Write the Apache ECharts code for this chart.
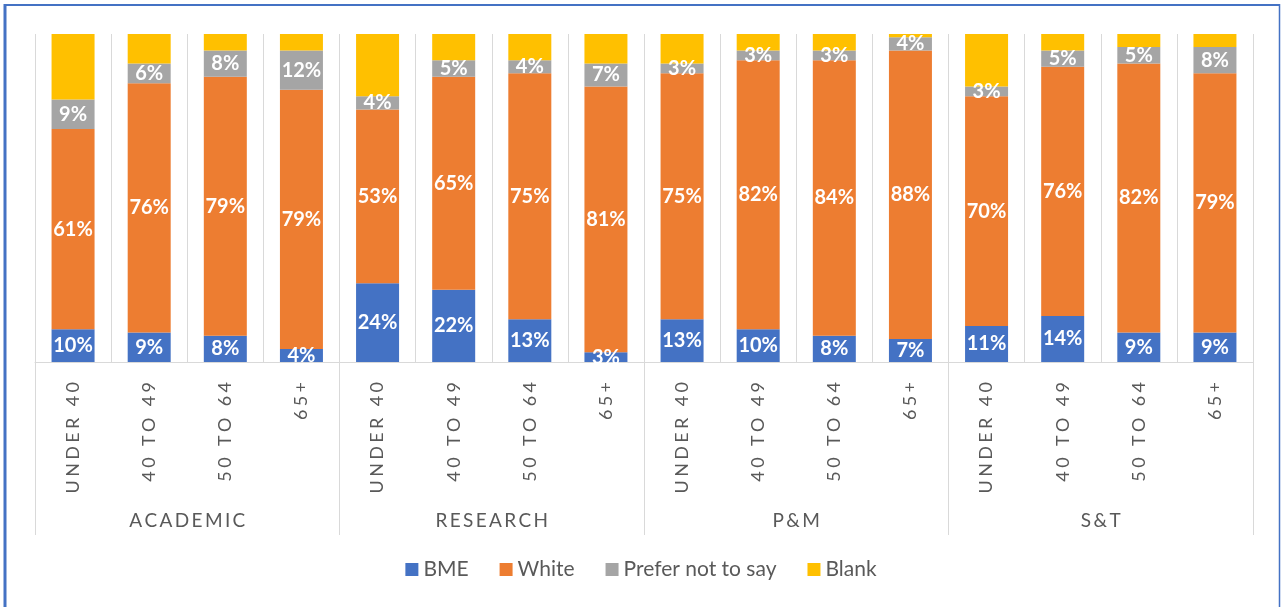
<!DOCTYPE html>
<html>
<head>
<meta charset="utf-8">
<script src="https://cdn.jsdelivr.net/npm/echarts@6/dist/echarts.min.js"></script>
<style>
html,body{margin:0;padding:0;background:#fff;}
#chart{width:1282px;height:607px;}
</style>
</head>
<body>
<div id="chart"></div>
<script>
var groups = ['ACADEMIC', 'RESEARCH', 'P&M', 'S&T'];
var ageBands = ['UNDER 40', '40 TO 49', '50 TO 64', '65+'];
var categories = [];
groups.forEach(function (g) { ageBands.forEach(function (a) { categories.push(a); }); });

var bme    = [10, 9, 8, 4,   24, 22, 13, 3,   13, 10, 8, 7,   11, 14, 9, 9];
var white  = [61, 76, 79, 79, 53, 65, 75, 81, 75, 82, 84, 88, 70, 76, 82, 79];
var prefer = [9, 6, 8, 12,   4, 5, 4, 7,      3, 3, 3, 4,     3, 5, 5, 8];
var blank  = [20, 9, 5, 5,   19, 8, 8, 9,     9, 5, 5, 1,     16, 5, 4, 4];

var seriesNames = ['BME', 'White', 'Prefer not to say', 'Blank'];
var seriesColors = ['#4472c4', '#ed7d31', '#a5a5a5', '#ffc000'];
var seriesData = [bme, white, prefer, blank];

function spaced(s, sep) { return s.split('').join(sep); }

var chart = echarts.init(document.getElementById('chart'));
var labelStyle = {
  show: true, position: 'inside', formatter: '{c}%',
  color: '#ffffff', fontWeight: 'bold', fontSize: 20, fontFamily: 'Lato'
};
var series = seriesData.map(function (d, i) {
  return {
    name: seriesNames[i], type: 'bar', stack: 'total', barWidth: 43,
    data: d, xAxisIndex: 0,
    itemStyle: { color: seriesColors[i] },
    label: i < 3 ? labelStyle : { show: false }
  };
});

chart.setOption({
  animation: false,
  textStyle: { fontFamily: 'Lato' },
  grid: { left: 35, right: 29, top: 34, bottom: 245, containLabel: false },
  legend: {
    bottom: 22, left: 'center', itemWidth: 13, itemHeight: 13, itemGap: 31,
    icon: 'rect',
    textStyle: { fontSize: 21, color: '#595959', fontFamily: 'Lato' },
    data: seriesNames
  },
  xAxis: [{
    type: 'category', data: categories, position: 'bottom',
    axisLine: { show: true, lineStyle: { color: '#d9d9d9', width: 1 } },
    axisTick: { show: false },
    splitLine: { show: true, interval: 0, lineStyle: { color: '#d9d9d9', width: 1 } },
    axisLabel: {
      interval: 0, rotate: 90, margin: 20, fontSize: 18, color: '#595959',
      fontFamily: 'Lato',
      formatter: function (v) { return spaced(v, '\u2009\u200a'); }
    }
  }, {
    type: 'category', data: groups, position: 'bottom',
    axisLine: { show: false },
    axisTick: { show: true, interval: 0, length: 173, lineStyle: { color: '#d9d9d9', width: 1 } },
    splitLine: { show: false },
    axisLabel: {
      interval: 0, margin: 149, fontSize: 19, color: '#595959', fontFamily: 'Lato',
      formatter: function (v) { return spaced(v, '\u2009'); }
    }
  }],
  yAxis: { type: 'value', min: 0, max: 100, show: false, splitLine: { show: false } },
  graphic: [
    { type: 'line', shape: { x1: 5, y1: 4, x2: 5, y2: 607 }, style: { stroke: '#4472c4', lineWidth: 3 } },
    { type: 'line', shape: { x1: 4, y1: 5, x2: 1280, y2: 5 }, style: { stroke: '#4472c4', lineWidth: 2 } },
    { type: 'line', shape: { x1: 1279.5, y1: 4, x2: 1279.5, y2: 607 }, style: { stroke: '#4472c4', lineWidth: 1.5 } }
  ],
  series: series
});
</script>
</body>
</html>
